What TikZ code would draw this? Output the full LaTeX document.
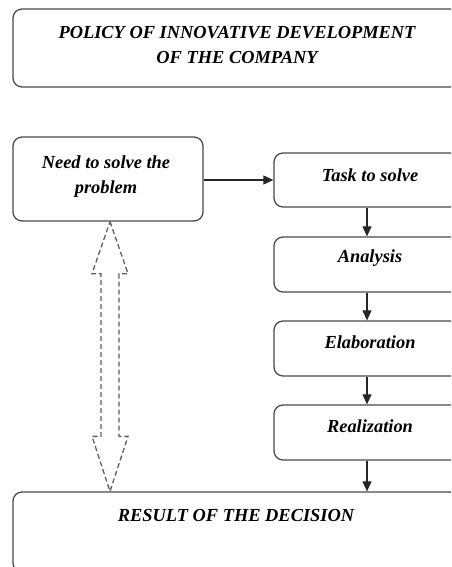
\documentclass[tikz,border=0pt]{standalone}
\usepackage{fontspec}
\setmainfont{Liberation Serif}
\usetikzlibrary{arrows.meta,calc}
\definecolor{edge}{HTML}{4A4A4A}
\definecolor{dashgray}{HTML}{5E5E5E}
\tikzset{
  box/.style={draw=edge, line width=1.3pt, rounded corners=9pt, inner sep=0pt},
  lbl/.style={font=\bfseries\itshape\fontsize{18.4}{25}\selectfont, align=center, inner sep=0pt},
  flow/.style={draw=black!85, line width=1.1pt, -{Triangle[length=10pt,width=9pt]}},
  hollow/.style={draw=dashgray, line width=1.3pt, dash pattern=on 5pt off 3pt, line join=miter}
}
\begin{document}
\begin{tikzpicture}[x=1pt,y=-1pt]
\useasboundingbox (0,0) rectangle (451,567);
\clip (0,0) rectangle (451,567);

% boxes
\node[box, minimum width=448pt, minimum height=78pt] (policy) at (237,48) {};
\node[box, minimum width=190pt, minimum height=84pt] (need) at (108,179) {};
\node[box, minimum width=192pt, minimum height=54pt] (task) at (370,180) {};
\node[box, minimum width=192pt, minimum height=55pt] (analysis) at (370,264.5) {};
\node[box, minimum width=192pt, minimum height=55pt] (elab) at (370,348.5) {};
\node[box, minimum width=192pt, minimum height=55pt] (real) at (370,432.5) {};
\node[box, minimum width=446pt, minimum height=80pt] (result) at (236,532) {};

% labels
\node[lbl] (policyT) at (237,44.5) {POLICY OF INNOVATIVE DEVELOPMENT\\OF THE COMPANY};
\node[lbl] (needT) at (106,177) {Need to solve the\\problem};
\node[lbl] (taskT) at (370,175) {Task to solve};
\node[lbl] (analysisT) at (370,258) {Analysis};
\node[lbl] (elabT) at (370,342) {Elaboration};
\node[lbl] (realT) at (370,426) {Realization};
\node[lbl] (resultT) at (236,515) {RESULT OF THE DECISION};

% process flow
\draw[flow] (need.east |- 0,180) -- (task.west |- 0,180);
\draw[flow] (task.south -| 367,0) -- (analysis.north -| 367,0);
\draw[flow] (analysis.south -| 367,0) -- (elab.north -| 367,0);
\draw[flow] (elab.south -| 367,0) -- (real.north -| 367,0);
\draw[flow] (real.south -| 367,0) -- (result.north -| 367,0);

% dashed double-headed hollow arrow between need and result
\coordinate (up) at (need.south -| 110,0);
\coordinate (dn) at (result.north -| 110,0);
\draw[hollow] (up) -- ++(18,52) -- ++(-9,0) -- ($(dn)+(9,-55)$) -- ++(9,0) -- (dn)
  -- ++(-18,-55) -- ++(9,0) -- ($(up)+(-9,52)$) -- ++(-9,0) -- cycle;
\end{tikzpicture}
\end{document}
